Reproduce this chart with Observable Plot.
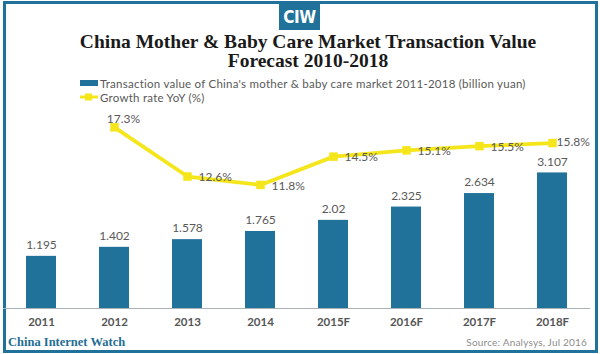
<!DOCTYPE html>
<html>
<head>
<meta charset="utf-8">
<script src="https://cdn.jsdelivr.net/npm/d3@7"></script>
<script src="https://cdn.jsdelivr.net/npm/@observablehq/plot@0.6"></script>
<style>
  html, body { margin: 0; padding: 0; background: #fff; }
  #page { position: relative; width: 600px; height: 354px; overflow: hidden; background: #fff; }
  #border { position: absolute; left: 3px; top: 1px; width: 595px; height: 352px; box-sizing: border-box; border: 3px solid #21729a; }
  #logo { position: absolute; left: 279px; top: 4px; width: 41px; height: 26px; background: #21729a; color: #fff;
          font: bold 17px "Liberation Sans Narrow", "DejaVu Sans Condensed", sans-serif; text-align: center; line-height: 26px; letter-spacing: -0.5px; }
  #title { position: absolute; left: 8px; top: 32px; width: 600px; text-align: center;
           font: bold 19.5px/19px "Liberation Serif", serif; color: #1a1a1a; }
  .leg { position: absolute; left: 80px; font: 11.5px "Lato", sans-serif; letter-spacing: 0.25px; color: #595959; white-space: nowrap; display: flex; align-items: center; height: 14px; }
  .leg svg { margin-right: 1px; }
  #plot { position: absolute; left: 0; top: 105px; }
  #cw { position: absolute; left: 8px; top: 335px; font: bold 12.5px "Liberation Serif", serif; color: #1f6e94; }
  #src { position: absolute; right: 13px; top: 336px; font: 10px "Lato", sans-serif; letter-spacing: 0.2px; color: #8c8c8c; }
</style>
</head>
<body>
<div id="page">
  <div id="border"></div>
  <div id="logo">CIW</div>
  <div id="title">China Mother &amp; Baby Care Market Transaction Value<br>Forecast 2010-2018</div>
  <div class="leg" id="leg1" style="top:76px"></div>
  <div class="leg" id="leg2" style="top:90px"></div>
  <div id="plot"></div>
  <div id="cw">China Internet Watch</div>
  <div id="src">Source: Analysys, Jul 2016</div>
</div>
<script>
const years = ["2011", "2012", "2013", "2014", "2015F", "2016F", "2017F", "2018F"];
const values = [1.195, 1.402, 1.578, 1.765, 2.02, 2.325, 2.634, 3.107];
const growth = [null, 17.3, 12.6, 11.8, 14.5, 15.1, 15.5, 15.8];
const seriesNames = ["Transaction value of China's mother & baby care market 2011-2018 (billion yuan)", "Growth rate YoY (%)"];

const BAR = "#21729a";
const YEL = "#f5e61c";
const GROWTH_TO_Y = 0.24; // secondary-axis mapping: percent -> primary y units

const rows = years.map((y, i) => ({year: y, value: values[i], growth: growth[i]}));
const lineRows = rows.filter(d => d.growth != null);

// legend
document.getElementById("leg1").innerHTML =
  `<svg width="19" height="14"><rect x="0" y="4" width="18" height="6" fill="${BAR}"/></svg>${seriesNames[0]}`;
document.getElementById("leg2").innerHTML =
  `<svg width="19" height="14"><line x1="0" x2="18" y1="7" y2="7" stroke="${YEL}" stroke-width="3"/><rect x="5" y="3.5" width="7" height="7" fill="${YEL}"/></svg>${seriesNames[1]}`;

const chart = Plot.plot({
  width: 600,
  height: 235,
  marginLeft: 3,
  marginRight: 10,
  marginTop: 11,
  marginBottom: 32,
  style: {fontFamily: "Lato, sans-serif", fontSize: "12px", background: "transparent", overflow: "visible"},
  x: {type: "band", domain: years, paddingInner: 0.59, paddingOuter: 0.305},
  y: {domain: [0, 4.4], axis: null},
  marks: [
    Plot.barY(rows, {x: "year", y: "value", fill: BAR}),
    Plot.ruleY([0], {stroke: "#a9b1b8", strokeWidth: 1}),
    Plot.axisX({tickSize: 0, tickPadding: 9, fontSize: 11.5, fontWeight: "bold", fill: "#555555", label: null}),
    Plot.text(rows, {x: "year", y: "value", text: d => String(d.value), dy: -11, fill: "#595959", fontSize: 12}),
    Plot.line(lineRows, {x: "year", y: d => d.growth * GROWTH_TO_Y, stroke: YEL, strokeWidth: 3.8}),
    Plot.dot(lineRows, {x: "year", y: d => d.growth * GROWTH_TO_Y, symbol: "square", r: 4.8, fill: YEL, stroke: null}),
    Plot.text(lineRows.filter(d => d.year !== "2012" && d.year !== "2018F"),
      {x: "year", y: d => d.growth * GROWTH_TO_Y, text: d => d.growth.toFixed(1) + "%", dx: 11, dy: 1, textAnchor: "start", fill: "#595959", fontSize: 12}),
    Plot.text(lineRows.filter(d => d.year === "2012"),
      {x: "year", y: d => d.growth * GROWTH_TO_Y, text: d => d.growth.toFixed(1) + "%", dx: 9, dy: -8, textAnchor: "middle", fill: "#595959", fontSize: 12}),
    Plot.text(lineRows.filter(d => d.year === "2018F"),
      {x: "year", y: d => d.growth * GROWTH_TO_Y, text: d => d.growth.toFixed(1) + "%", dx: 4, dy: -1, textAnchor: "start", fill: "#595959", fontSize: 12})
  ]
});
document.getElementById("plot").appendChild(chart);
</script>
</body>
</html>
